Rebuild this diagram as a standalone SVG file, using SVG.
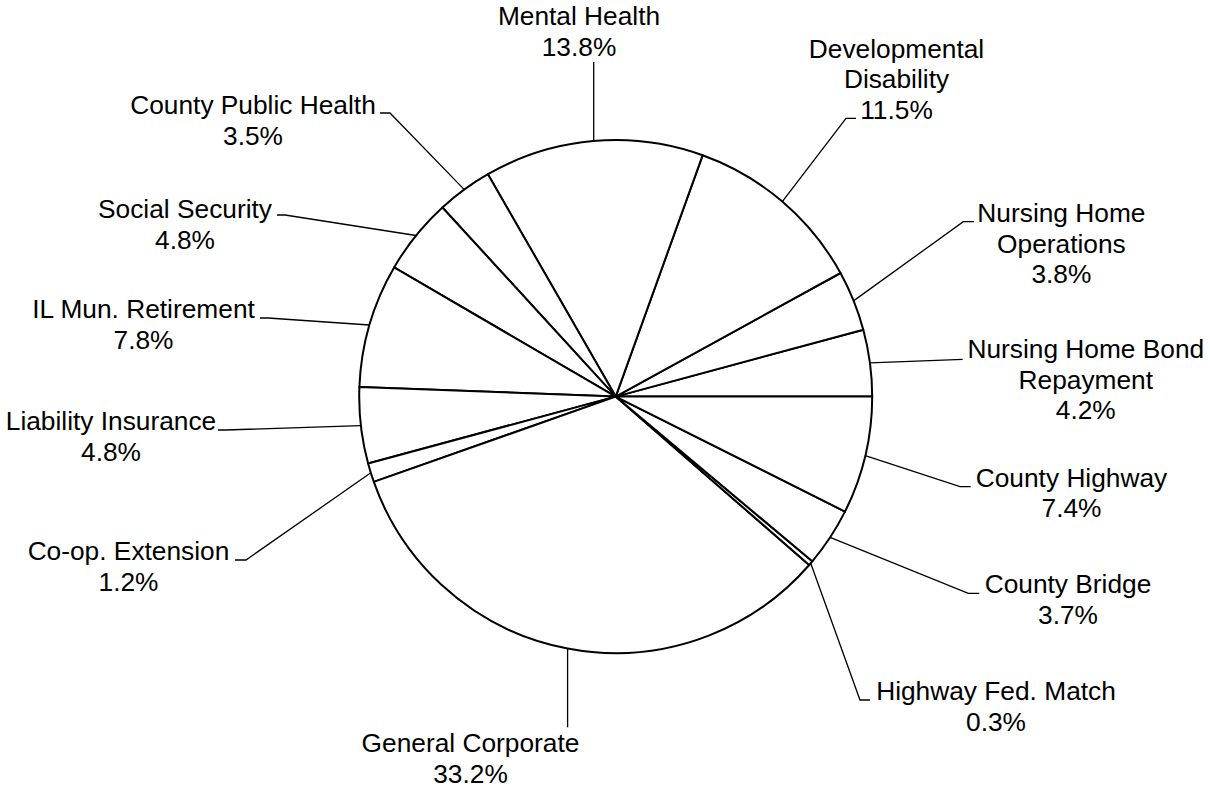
<svg xmlns="http://www.w3.org/2000/svg" width="1210" height="788" viewBox="0 0 1210 788">
<style>
.s{fill:#fff;stroke:#000;stroke-width:2;stroke-linejoin:round}
.l{fill:none;stroke:#000;stroke-width:1.3}
text{font-family:"Liberation Sans",Arial,sans-serif;font-size:26.3px;fill:#000;text-anchor:middle}
</style>
<rect width="1210" height="788" fill="#fff"/>
<g id="slices">
<g id="bond"><path class="s" d="M615.7,396.6 L872.2,396.6 A256.5,256.5 0 0 0 863.3,329.7 Z"/></g>
<g id="nhops"><path class="s" d="M615.7,396.6 L863.3,329.7 A256.5,256.5 0 0 0 840.5,273.0 Z"/></g>
<g id="devdis"><path class="s" d="M615.7,396.6 L840.5,273.0 A256.5,256.5 0 0 0 702.6,155.3 Z"/></g>
<g id="mental"><path class="s" d="M615.7,396.6 L702.6,155.3 A256.5,256.5 0 0 0 487.9,174.2 Z"/></g>
<g id="cph"><path class="s" d="M615.7,396.6 L487.9,174.2 A256.5,256.5 0 0 0 442.4,207.5 Z"/></g>
<g id="socsec"><path class="s" d="M615.7,396.6 L442.4,207.5 A256.5,256.5 0 0 0 394.1,267.4 Z"/></g>
<g id="ilmun"><path class="s" d="M615.7,396.6 L394.1,267.4 A256.5,256.5 0 0 0 359.4,386.9 Z"/></g>
<g id="liab"><path class="s" d="M615.7,396.6 L359.4,386.9 A256.5,256.5 0 0 0 368.1,463.5 Z"/></g>
<g id="coop"><path class="s" d="M615.7,396.6 L368.1,463.5 A256.5,256.5 0 0 0 373.8,481.9 Z"/></g>
<g id="gencorp"><path class="s" d="M615.7,396.6 L373.8,481.9 A256.5,256.5 0 0 0 809.2,565.0 Z"/></g>
<g id="fedmatch"><path class="s" d="M615.7,396.6 L809.2,565.0 A256.5,256.5 0 0 0 812.3,561.3 Z"/></g>
<g id="bridge"><path class="s" d="M615.7,396.6 L812.3,561.3 A256.5,256.5 0 0 0 845.0,511.6 Z"/></g>
<g id="highway"><path class="s" d="M615.7,396.6 L845.0,511.6 A256.5,256.5 0 0 0 872.2,396.6 Z"/></g>
</g>
<g id="connectors">
<path class="l" d="M870,362.8 L962.7,359.3"/>
<path class="l" d="M853.5,300.9 L963.3,221.7 L974,221.7"/>
<path class="l" d="M782.3,201.6 L846,118.3 L856,118.3"/>
<path class="l" d="M593.7,141 L593.7,62"/>
<path class="l" d="M464.3,189.6 L390,113 L380,113"/>
<path class="l" d="M416.1,235.5 L285,215 L277,215"/>
<path class="l" d="M369.4,325 L268,318 L260,318"/>
<path class="l" d="M360.8,425.6 L226,430 L218,430"/>
<path class="l" d="M370.8,472.8 L246,560 L235,560"/>
<path class="l" d="M567.6,648.6 L567.6,727.3"/>
<path class="l" d="M810.7,563.2 L860,700 L870,700"/>
<path class="l" d="M830.1,537.4 L968.3,593.3 L979.3,593.3"/>
<path class="l" d="M865.3,455.7 L960,486.7 L970.7,486.7"/>
</g>
<g id="label-bond"><text x="1085.8" y="357.7">Nursing Home Bond</text><text x="1085.8" y="388.5">Repayment</text><text x="1085.8" y="419">4.2%</text></g>
<g id="label-nhops"><text x="1061.4" y="222.3">Nursing Home</text><text x="1061.4" y="252.8">Operations</text><text x="1061.4" y="283.3">3.8%</text></g>
<g id="label-devdis"><text x="896.5" y="57.5">Developmental</text><text x="896.5" y="88">Disability</text><text x="896.5" y="118.5">11.5%</text></g>
<g id="label-mental"><text x="579" y="25">Mental Health</text><text x="579" y="56">13.8%</text></g>
<g id="label-cph"><text x="253" y="114">County Public Health</text><text x="253" y="144.5">3.5%</text></g>
<g id="label-socsec"><text x="185" y="218">Social Security</text><text x="185" y="248.5">4.8%</text></g>
<g id="label-ilmun"><text x="143.5" y="318">IL Mun. Retirement</text><text x="143.5" y="348.5">7.8%</text></g>
<g id="label-liab"><text x="111" y="430">Liability Insurance</text><text x="111" y="460.5">4.8%</text></g>
<g id="label-coop"><text x="128.5" y="560">Co-op. Extension</text><text x="128.5" y="590.5">1.2%</text></g>
<g id="label-gencorp"><text x="470.5" y="752.3">General Corporate</text><text x="470.5" y="782.7">33.2%</text></g>
<g id="label-fedmatch"><text x="996" y="700">Highway Fed. Match</text><text x="996" y="730.5">0.3%</text></g>
<g id="label-bridge"><text x="1068" y="593.3">County Bridge</text><text x="1068" y="624">3.7%</text></g>
<g id="label-highway"><text x="1071.5" y="486.7">County Highway</text><text x="1071.5" y="517">7.4%</text></g>
</svg>
